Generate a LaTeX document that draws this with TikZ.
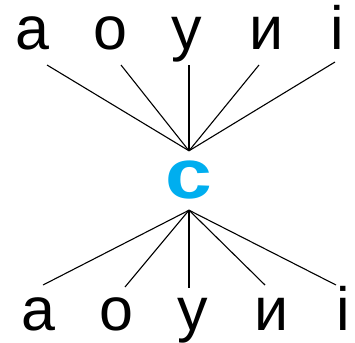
\documentclass[tikz,border=0pt]{standalone}
\usepackage{fontspec}
\newfontfamily\cyrfont{Liberation Sans}
\usetikzlibrary{positioning}
\definecolor{hubblue}{RGB}{0,174,239}

\begin{document}
\begin{tikzpicture}[x=1pt, y=-1pt,
    letter/.style={anchor=base, inner sep=0pt, font=\cyrfont\fontsize{61}{61}\selectfont},
    hub/.style={anchor=base, inner xsep=0pt, inner ysep=12pt, text height=35pt, text depth=0pt,
      text=hubblue, font=\cyrfont\bfseries\fontsize{70}{70}\selectfont},
    spoke/.style={line width=1.1pt}]
  \useasboundingbox (0,0) rectangle (355,342);
  % top row
  \node[letter] (ta) at (32,50) {а};
  \node[letter] (to) at (110,50) {о};
  \node[letter] (tu) at (187,50) {у};
  \node[letter] (ty) at (267,50) {и};
  \node[letter] (ti) at (337,50) {і};
  % centre letter
  \node[hub] (c) at (189,198) {\scalebox{1.2}[1]{с}};
  % bottom row
  \node[letter] (ba) at (38,330) {а};
  \node[letter] (bo) at (116,330) {о};
  \node[letter] (bu) at (193,330) {у};
  \node[letter] (by) at (272,330) {и};
  \node[letter] (bi) at (343,330) {і};
  % free ends of the spokes
  \coordinate (ta-end) at (47,65);
  \coordinate (to-end) at (121,65);
  \coordinate (tu-end) at (189,65);
  \coordinate (ty-end) at (259,65);
  \coordinate (ti-end) at (335,62);
  \coordinate (ba-end) at (43,285);
  \coordinate (bo-end) at (125,287);
  \coordinate (bu-end) at (189,288);
  \coordinate (by-end) at (265,285);
  \coordinate (bi-end) at (336,285);
  \foreach \l in {a,o,u,y,i}{
    \draw[spoke] (c.north) -- (t\l-end);
    \draw[spoke] (c.south) -- (b\l-end);
  }
\end{tikzpicture}
\end{document}
